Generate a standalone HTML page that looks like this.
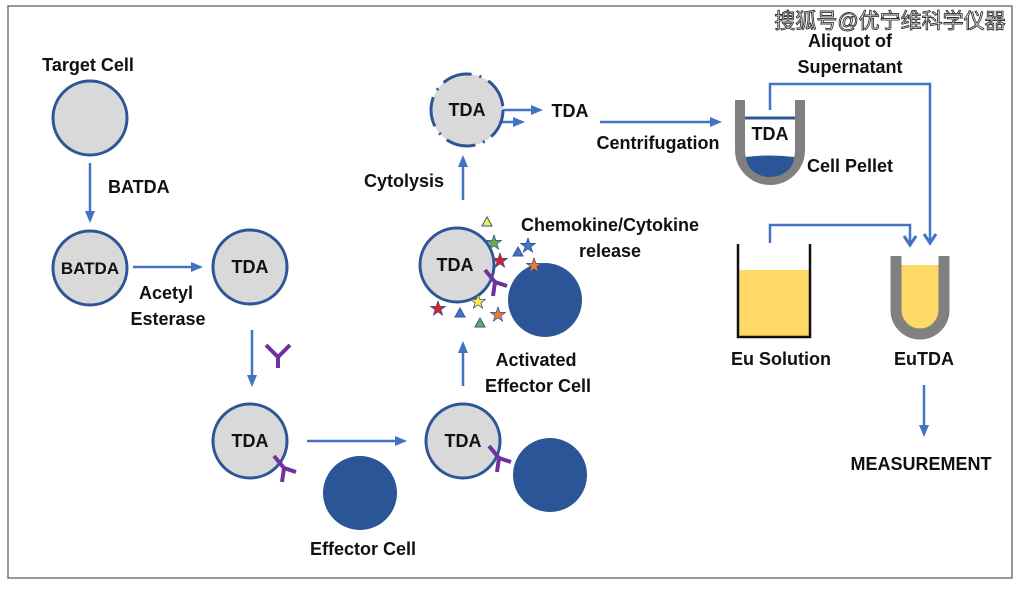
<!DOCTYPE html>
<html><head><meta charset="utf-8"><style>
body{margin:0;background:#fff}
text{font-family:"Liberation Sans","Noto Sans CJK SC",sans-serif;font-weight:bold;fill:#111}
</style></head><body>
<svg width="1024" height="587" viewBox="0 0 1024 587" xmlns="http://www.w3.org/2000/svg">
<defs>
<marker id="a" markerWidth="12" markerHeight="12" refX="9" refY="6" orient="auto" markerUnits="userSpaceOnUse"><path d="M0,1 L12,6 L0,11 Z" fill="#4472c4"/></marker>
<marker id="v" markerWidth="14" markerHeight="14" refX="11" refY="7" orient="auto" markerUnits="userSpaceOnUse"><path d="M2,1 L11,7 L2,13" fill="none" stroke="#4472c4" stroke-width="3"/></marker>
<g id="ab"><path d="M0,0 L10,12 L22,16 M10,12 L8,26" stroke="#7030a0" stroke-width="4" fill="none"/></g>
</defs>
<rect x="8" y="6" width="1004" height="572" fill="none" stroke="#777" stroke-width="1.5"/>
<g stroke="#4472c4" stroke-width="2.5" fill="none" marker-end="url(#a)">
<line x1="90" y1="163" x2="90" y2="220"/>
<line x1="133" y1="267" x2="200" y2="267"/>
<line x1="252" y1="330" x2="252" y2="384"/>
<line x1="307" y1="441" x2="404" y2="441"/>
<line x1="463" y1="386" x2="463" y2="344"/>
<line x1="463" y1="200" x2="463" y2="158"/>
<line x1="497" y1="110" x2="540" y2="110"/>
<line x1="480" y1="122" x2="522" y2="122"/>
<line x1="600" y1="122" x2="719" y2="122"/>
<line x1="924" y1="385" x2="924" y2="434"/>
</g>
<g stroke="#4472c4" stroke-width="2.5" fill="none" marker-end="url(#v)">
<path d="M770,110 V84 H930 V243"/>
<path d="M770,243 V225 H910 V245"/>
</g>
<g fill="#d9d9d9" stroke="#2f5597" stroke-width="3">
<circle cx="90" cy="118" r="37"/><circle cx="90" cy="268" r="37"/><circle cx="250" cy="267" r="37"/>
<circle cx="250" cy="441" r="37"/><circle cx="463" cy="441" r="37"/><circle cx="457" cy="265" r="37"/>
</g>
<circle cx="467" cy="110" r="36" fill="#d9d9d9"/>
<circle cx="467" cy="110" r="36" fill="none" stroke="#2f5597" stroke-width="3" stroke-dasharray="30 8 2 8"/>
<g fill="#2b5597"><circle cx="360" cy="493" r="37"/><circle cx="550" cy="475" r="37"/><circle cx="545" cy="300" r="37"/></g>
<use href="#ab" x="274" y="456"/><use href="#ab" x="489" y="446"/><use href="#ab" x="485" y="270"/>
<path d="M266,345 L278,357 L290,345 M278,357 L278,368" stroke="#7030a0" stroke-width="4" fill="none"/>
<g stroke="#2f5597" stroke-width="1">
<path d="M487,217 l5,9 h-10z" fill="#ffef3a"/><path d="M480,318 l5,9 h-10z" fill="#70ad47"/>
<path d="M460,308 l5,9 h-10z" fill="#4472c4"/><path d="M518,247 l5,9 h-10z" fill="#4472c4"/>
</g>
<g font-size="16" text-anchor="middle" style="font-family:'DejaVu Sans',sans-serif" stroke="#2f5597" stroke-width="0.8">
<text x="494" y="248" style="fill:#70ad47">★</text>
<text x="500" y="266" style="fill:#e02020">★</text>
<text x="528" y="251" style="fill:#4472c4">★</text>
<text x="534" y="271" style="fill:#ed7d31">★</text>
<text x="438" y="314" style="fill:#e02020">★</text>
<text x="478" y="307" style="fill:#ffef3a">★</text>
<text x="498" y="320" style="fill:#ed7d31">★</text>
</g>
<path d="M740,100 V150 A30,30 0 0 0 800,150 V100" fill="none" stroke="#808080" stroke-width="10"/>
<line x1="745" y1="118" x2="795" y2="118" stroke="#2f5597" stroke-width="3"/>
<path d="M746,157 Q770,154 794,157 A24,20 0 0 1 746,157Z" fill="#2b5597"/>
<rect x="738" y="270" width="72" height="67" fill="#ffd966"/>
<path d="M738,244 V337 H810 V244" fill="none" stroke="#111" stroke-width="2.5"/>
<path d="M896,265 H944 V312 A24,24 0 0 1 896,312Z" fill="#ffd966"/>
<path d="M896,256 V310 A24,24 0 0 0 944,310 V256" fill="none" stroke="#808080" stroke-width="11"/>
<g font-size="18">
<text x="88" y="71" text-anchor="middle">Target Cell</text>
<text x="108" y="193">BATDA</text>
<text x="90" y="274" text-anchor="middle" font-size="17">BATDA</text>
<text x="166" y="299" text-anchor="middle">Acetyl</text>
<text x="168" y="325" text-anchor="middle">Esterase</text>
<text x="250" y="273" text-anchor="middle">TDA</text>
<text x="250" y="447" text-anchor="middle">TDA</text>
<text x="463" y="447" text-anchor="middle">TDA</text>
<text x="455" y="271" text-anchor="middle">TDA</text>
<text x="467" y="116" text-anchor="middle">TDA</text>
<text x="570" y="117" text-anchor="middle">TDA</text>
<text x="770" y="140" text-anchor="middle">TDA</text>
<text x="363" y="555" text-anchor="middle">Effector Cell</text>
<text x="536" y="366" text-anchor="middle">Activated</text>
<text x="538" y="392" text-anchor="middle">Effector Cell</text>
<text x="610" y="231" text-anchor="middle">Chemokine/Cytokine</text>
<text x="610" y="257" text-anchor="middle">release</text>
<text x="404" y="187" text-anchor="middle">Cytolysis</text>
<text x="658" y="149" text-anchor="middle">Centrifugation</text>
<text x="850" y="47" text-anchor="middle">Aliquot of</text>
<text x="850" y="73" text-anchor="middle">Supernatant</text>
<text x="807" y="172">Cell Pellet</text>
<text x="781" y="365" text-anchor="middle">Eu Solution</text>
<text x="924" y="365" text-anchor="middle">EuTDA</text>
<text x="921" y="470" text-anchor="middle">MEASUREMENT</text>
</g>
<text x="890" y="28" text-anchor="middle" font-size="21" style="fill:#fff;font-weight:normal" stroke="#333" stroke-width="0.9">搜狐号@优宁维科学仪器</text>
</svg>
</body></html>
